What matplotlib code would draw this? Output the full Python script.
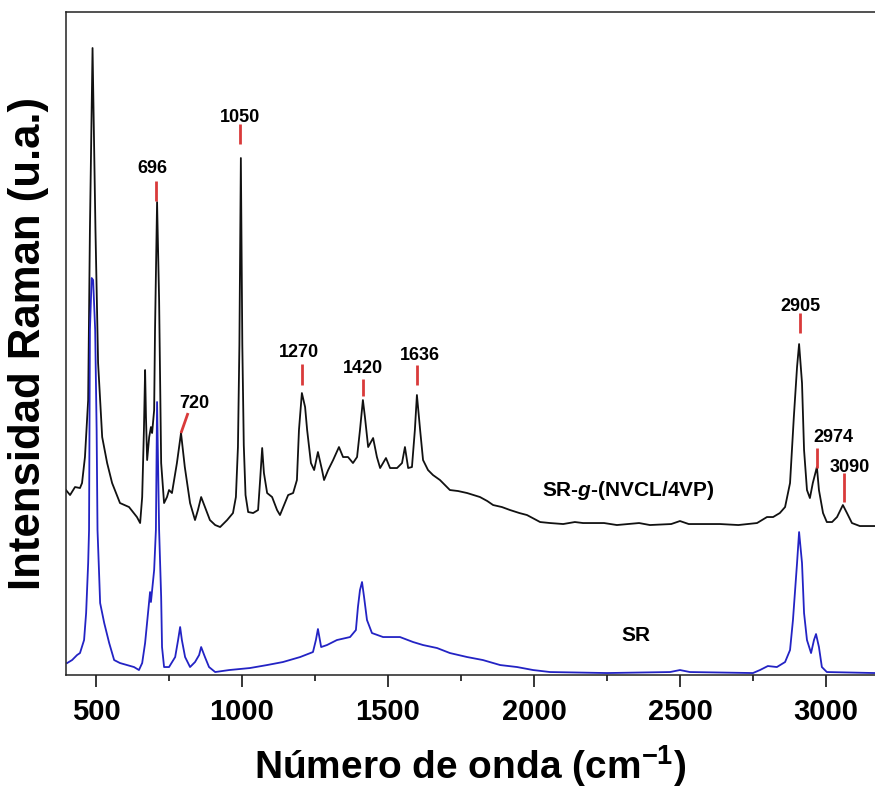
import numpy as np
import matplotlib
matplotlib.use("Agg")
import matplotlib.pyplot as plt
from matplotlib.ticker import MultipleLocator

plt.rcParams['font.family'] = ['Liberation Sans', 'DejaVu Sans']
plt.rcParams['font.weight'] = 'bold'
plt.rcParams['mathtext.fontset'] = 'custom'
plt.rcParams['mathtext.rm'] = 'Liberation Sans:bold'
plt.rcParams['mathtext.bf'] = 'Liberation Sans:bold'
plt.rcParams['mathtext.it'] = 'Liberation Sans:bold:italic'

# --- espectro SR-g-(NVCL/4VP) (desplazado hacia arriba) ---
graft_cm = [397, 411, 428, 445, 452, 462, 473, 479, 488, 498,
            507, 521, 538, 555, 582, 613, 640, 651, 658, 664,
            668, 671, 675, 682, 688, 692, 699, 702, 709, 716,
            723, 733, 743, 750, 760, 777, 791, 804, 822, 839,
            849, 860, 873, 890, 908, 925, 949, 969, 979, 986,
            991, 996, 1001, 1006, 1012, 1021, 1038, 1055, 1062, 1069,
            1075, 1086, 1103, 1120, 1130, 1147, 1158, 1175, 1188, 1195,
            1205, 1216, 1223, 1236, 1247, 1260, 1274, 1281, 1295, 1312,
            1332, 1346, 1363, 1380, 1394, 1404, 1414, 1421, 1432, 1449,
            1462, 1473, 1493, 1507, 1531, 1548, 1558, 1569, 1582, 1592,
            1599, 1610, 1620, 1637, 1654, 1678, 1712, 1740, 1771, 1815,
            1840, 1860, 1890, 1918, 1950, 1976, 2021, 2055, 2100, 2140,
            2168, 2240, 2284, 2360, 2397, 2470, 2500, 2530, 2637, 2700,
            2764, 2798, 2819, 2842, 2860, 2877, 2890, 2901, 2908, 2918,
            2925, 2935, 2945, 2955, 2969, 2976, 2990, 3003, 3021, 3038,
            3058, 3072, 3089, 3116, 3168]
graft_I = [185, 180, 188, 187, 192, 218, 275, 445, 627, 445,
           312, 238, 212, 192, 172, 168, 158, 152, 178, 245,
           305, 258, 215, 238, 248, 242, 265, 345, 473, 375,
           212, 172, 178, 185, 182, 212, 242, 208, 172, 155,
           165, 178, 168, 155, 150, 148, 155, 162, 178, 228,
           330, 517, 330, 230, 180, 163, 162, 165, 195, 227,
           202, 182, 178, 165, 160, 172, 180, 182, 195, 245,
           282, 268, 245, 212, 205, 223, 205, 195, 205, 215,
           228, 218, 218, 212, 218, 245, 275, 258, 228, 237,
           218, 207, 217, 207, 207, 212, 228, 207, 208, 245,
           280, 245, 215, 205, 200, 195, 185, 184, 182, 178,
           174, 170, 168, 165, 162, 160, 153, 152, 151, 153,
           152, 152, 150, 152, 150, 151, 154, 151, 151, 150,
           152, 158, 158, 162, 168, 192, 258, 308, 331, 292,
           225, 185, 177, 192, 208, 185, 162, 153, 153, 158,
           170, 162, 152, 149, 149]

# --- espectro SR ---
sr_cm = [401, 418, 435, 445, 459, 466, 473, 476, 479, 485,
         490, 497, 502, 505, 510, 514, 528, 545, 562, 582,
         606, 630, 647, 658, 668, 678, 685, 688, 699, 705,
         709, 716, 723, 726, 733, 750, 771, 781, 788, 794,
         805, 822, 839, 853, 860, 873, 887, 908, 956, 1027,
         1086, 1140, 1199, 1243, 1253, 1260, 1271, 1291, 1325, 1370,
         1390, 1397, 1404, 1411, 1418, 1428, 1445, 1483, 1541, 1586,
         1620, 1668, 1712, 1771, 1825, 1884, 1942, 1997, 2055, 2250,
         2466, 2500, 2534, 2750, 2774, 2801, 2832, 2860, 2877, 2887,
         2901, 2908, 2918, 2925, 2935, 2949, 2959, 2966, 2976, 2986,
         3003, 3168]
sr_I = [12, 15, 20, 22, 35, 62, 112, 145, 345, 397,
        395, 345, 245, 145, 105, 72, 52, 32, 15, 12,
        10, 8, 5, 12, 32, 62, 83, 73, 105, 145,
        273, 145, 78, 28, 8, 8, 18, 35, 48, 35,
        18, 8, 13, 20, 28, 18, 8, 3, 5, 7,
        10, 13, 18, 23, 35, 46, 28, 30, 35, 38,
        45, 68, 85, 93, 78, 55, 42, 38, 38, 33,
        30, 27, 22, 18, 15, 10, 8, 5, 3, 2,
        3, 5, 3, 2, 5, 9, 8, 13, 25, 55,
        112, 143, 112, 62, 35, 22, 35, 41, 28, 8,
        3, 2]

# bandas asignadas (posicion de la marca, texto)
band_pos = [705, 993, 1205, 1414, 1599, 2911, 2969, 3062]
band_text = ['696', '1050', '1270', '1420', '1636', '2905', '2974', '3090']
band_lo = [474, 531, 290, 279, 290, 342, 207, 173]
band_hi = [494, 551, 311, 296, 310, 362, 227, 202]
text_x = [692, 993, 1195, 1414, 1610, 2911, 3027, 3082]
text_y = [502, 553, 318, 302, 315, 364, 233, 203]

red = '#d93a3a'

fig = plt.figure(figsize=(8.75, 7.91), dpi=100)
ax = fig.add_axes([0.0754, 0.1466, 0.9246, 0.8382])

ax.plot(graft_cm, graft_I, color='#111111', lw=1.3)
ax.plot(sr_cm, sr_I, color='#2323c4', lw=1.3)

for x, lo, hi in zip(band_pos, band_lo, band_hi):
    ax.plot([x, x], [lo, hi], color=red, lw=2, solid_capstyle='butt')
for tx, ty, t in zip(text_x, text_y, band_text):
    ax.text(tx, ty, t, ha='center', va='baseline', fontsize=13, fontweight='bold')

# banda de 720 con marca inclinada
ax.plot([791, 815], [242, 262], color=red, lw=2, solid_capstyle='butt')
ax.text(836, 267, '720', ha='center', va='baseline', fontsize=13, fontweight='bold')

ax.text(2322, 179, 'SR-$\\mathit{g}$-(NVCL/4VP)', ha='center', va='baseline',
        fontsize=15, fontweight='bold')
ax.text(2349, 34, 'SR', ha='center', va='baseline', fontsize=15, fontweight='bold')

ax.set_xlim(397, 3168)
ax.set_ylim(0, 663)
ax.xaxis.set_major_locator(MultipleLocator(500))
ax.xaxis.set_minor_locator(MultipleLocator(250))
ax.set_yticks([])
ax.tick_params(axis='x', which='major', direction='out', length=8.6, width=1.1,
               labelsize=21, pad=8)
ax.tick_params(axis='x', which='minor', direction='out', length=4.3, width=1.1)
for lab in ax.get_xticklabels():
    lab.set_fontweight('bold')
for side in ['left', 'top', 'bottom']:
    ax.spines[side].set_linewidth(1.1)
    ax.spines[side].set_color('#222222')
ax.spines['right'].set_visible(False)

ax.set_xlabel('Número de onda (cm$^{\\mathbf{-1}}$)', fontsize=28, fontweight='bold', labelpad=12)
ax.set_ylabel('Intensidad Raman (u.a.)', fontsize=31.5, fontweight='bold', labelpad=12)

fig.savefig('out.png', dpi=100)
